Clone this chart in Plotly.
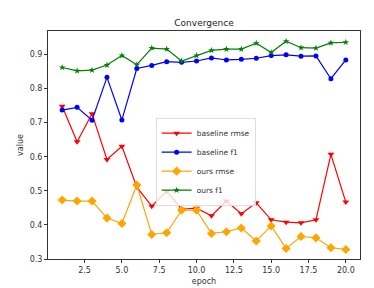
import plotly.graph_objects as go

epochs = list(range(1, 21))
baseline_rmse = [0.748, 0.644, 0.726, 0.592, 0.631, 0.511, 0.455, 0.499, 0.446, 0.449,
                 0.427, 0.470, 0.433, 0.465, 0.415, 0.408, 0.406, 0.415, 0.607, 0.467]
baseline_f1 = [0.737, 0.745, 0.707, 0.833, 0.708, 0.859, 0.868, 0.879, 0.877, 0.881,
               0.890, 0.884, 0.886, 0.889, 0.897, 0.899, 0.895, 0.896, 0.829, 0.884]
ours_rmse = [0.473, 0.470, 0.470, 0.420, 0.404, 0.517, 0.372, 0.377, 0.443, 0.443,
             0.375, 0.380, 0.391, 0.353, 0.397, 0.331, 0.366, 0.362, 0.333, 0.328]
ours_f1 = [0.862, 0.852, 0.854, 0.869, 0.897, 0.870, 0.919, 0.916, 0.881, 0.897,
           0.912, 0.916, 0.916, 0.933, 0.906, 0.939, 0.920, 0.919, 0.934, 0.936]

series = [
    ("baseline rmse", baseline_rmse, "red", "triangle-down", 6),
    ("baseline f1", baseline_f1, "blue", "circle", 5),
    ("ours rmse", ours_rmse, "orange", "diamond", 7),
    ("ours f1", ours_f1, "green", "star", 5),
]

fig = go.Figure()
for name, vals, color, sym, size in series:
    fig.add_trace(go.Scatter(x=epochs, y=vals, name=name, mode="lines+markers",
                             line=dict(color=color, width=1.2),
                             marker=dict(symbol=sym, size=size, color=color)))

axis_common = dict(showline=True, linecolor="#333", mirror=True, ticks="outside",
                   ticklen=3, tickcolor="#333", showgrid=False, zeroline=False,
                   tickfont=dict(size=8, color="#333"))
fig.update_layout(
    width=374, height=288,
    margin=dict(l=34, r=22, t=23, b=29),
    paper_bgcolor="white", plot_bgcolor="white",
    font=dict(family="DejaVu Sans", size=8, color="#333"),
    title=dict(text="Convergence", x=0.5, xref="paper", y=1 - 15 / 288,
               yanchor="middle", font=dict(size=9, color="#222")),
    xaxis=dict(range=[0.05, 20.95], tickvals=[2.5, 5, 7.5, 10, 12.5, 15, 17.5, 20],
               ticktext=["2.5", "5.0", "7.5", "10.0", "12.5", "15.0", "17.5", "20.0"],
               title=dict(text="epoch", font=dict(size=8), standoff=4), **axis_common),
    yaxis=dict(range=[0.3, 0.969], tickvals=[0.3, 0.4, 0.5, 0.6, 0.7, 0.8, 0.9],
               ticktext=["0.3", "0.4", "0.5", "0.6", "0.7", "0.8", "0.9"],
               title=dict(text="value", font=dict(size=8), standoff=4), **axis_common),
    legend=dict(x=0.345, y=0.62, xanchor="left", yanchor="top",
                bgcolor="rgba(255,255,255,0.8)", bordercolor="#ddd", borderwidth=1,
                font=dict(size=7.5, color="#333"), itemwidth=30, tracegroupgap=0),
    showlegend=True,
)
fig.write_html("out.html")
